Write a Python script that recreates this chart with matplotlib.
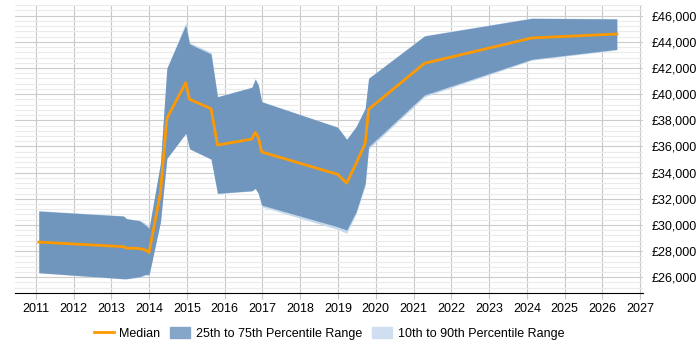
import matplotlib.pyplot as plt
from matplotlib.patches import Patch
from matplotlib.lines import Line2D
from matplotlib.ticker import MultipleLocator, FuncFormatter

plt.rcParams['font.family'] = ['Liberation Sans', 'DejaVu Sans']

# decimal years
dates = [2011.08, 2013.32, 2013.40, 2013.75, 2013.90, 2014.00, 2014.30, 2014.47,
         2014.97, 2015.07, 2015.64, 2015.81, 2016.72, 2016.81, 2016.89, 2016.98,
         2018.99, 2019.23, 2019.48, 2019.72, 2019.81, 2021.29, 2024.13, 2026.38]

median = [28690, 28340, 28230, 28200, 28080, 27900, 32460, 38150,
          40880, 39610, 38890, 36110, 36570, 37080, 36700, 35580,
          33870, 33200, 34710, 36240, 38840, 42360, 44300, 44600]

p25 = [26350, 25890, 25890, 26040, 26220, 26220, 30240, 35090,
       37010, 35830, 35040, 32420, 32620, 32800, 32420, 31520,
       29860, 29610, 31010, 33180, 35980, 39940, 42670, 43430]

p75 = [31060, 30680, 30480, 30320, 30000, 29740, 34710, 41980,
       45290, 43840, 43070, 39800, 40520, 41160, 40700, 39420,
       37470, 36550, 37520, 38920, 41210, 44450, 45800, 45750]

p10 = [26330, 25870, 25870, 26000, 26150, 26150, 30200, 35060,
       36980, 35800, 35010, 32390, 32590, 32770, 32390, 31390,
       29660, 29360, 30850, 33000, 35800, 39800, 42600, 43380]

p90 = [31100, 30700, 30500, 30350, 30150, 29800, 34750, 42000,
       45470, 43950, 43200, 39820, 40540, 41180, 40720, 39440,
       37480, 36560, 37540, 38940, 41230, 44480, 45830, 45780]

years = list(range(2011, 2028))

fig = plt.figure(figsize=(7, 3.5), dpi=100)
ax = fig.add_axes([0.0214, 0.163, 0.897, 0.822])

ax.fill_between(dates, p10, p90, color='#c6d9ec', lw=0, zorder=2)
ax.fill_between(dates, p25, p75, color='#7096be', lw=0, zorder=3)
ax.plot(dates, median, color='#ff9900', lw=2, zorder=4)

ax.set_xlim(2010.45, 2027.07)
ax.set_ylim(24800, 46800)
ax.set_xticks(years)
ax.yaxis.set_major_locator(MultipleLocator(2000))
ax.yaxis.set_minor_locator(MultipleLocator(400))
ax.yaxis.set_major_formatter(FuncFormatter(lambda v, p: '£{:,.0f}'.format(v)))
ax.yaxis.tick_right()

ax.grid(axis='x', color='#c8c8c8', lw=0.8, zorder=0)
ax.grid(axis='y', which='major', color='#cccccc', lw=0.8, zorder=0)
ax.grid(axis='y', which='minor', color='#ebebeb', lw=0.8, zorder=0)
ax.set_axisbelow(True)

for s in ['top', 'left', 'right']:
    ax.spines[s].set_visible(False)
ax.spines['bottom'].set_color('black')
ax.tick_params(axis='x', length=4, color='#c8c8c8', labelsize=9, pad=3)
ax.tick_params(axis='y', which='both', length=0, labelsize=9, pad=6)

handles = [Line2D([0], [0], color='#ff9900', lw=2),
           Patch(color='#86a6c8'),
           Patch(color='#cfdff0')]
labels = ['Median', '25th to 75th Percentile Range', '10th to 90th Percentile Range']
fig.legend(handles, labels, loc='center', bbox_to_anchor=(0.47, 0.047), ncol=3,
           frameon=False, fontsize=9, handlelength=1.6, handleheight=1.0,
           columnspacing=0.8, handletextpad=0.45)

fig.savefig('out.png', dpi=100)
